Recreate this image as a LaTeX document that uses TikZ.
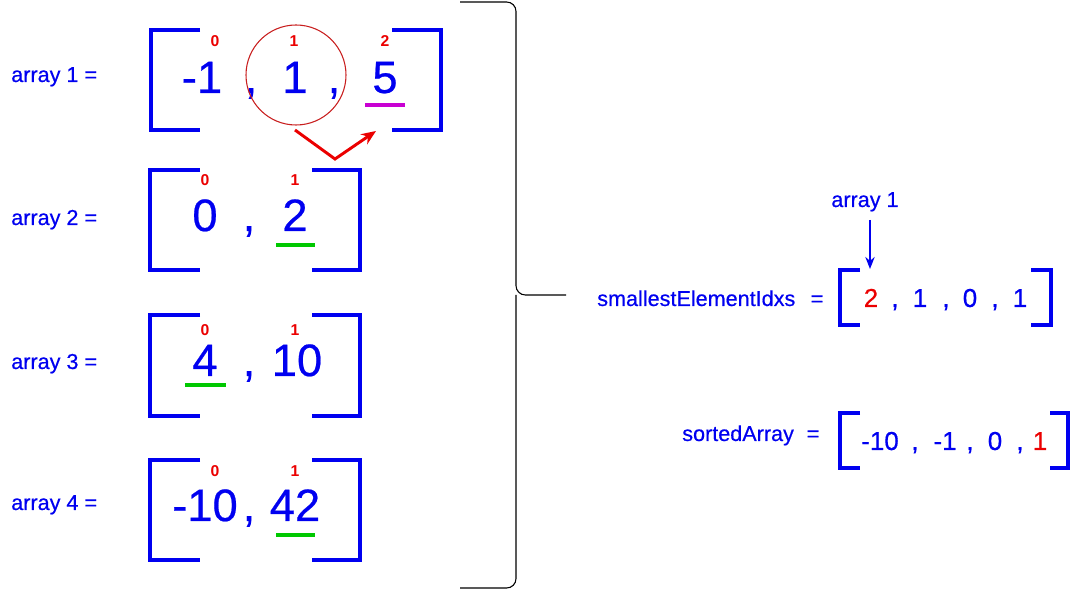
\documentclass[tikz,border=0pt]{standalone}
\usepackage{fontspec}
\setmainfont{Liberation Sans}
\newfontfamily\hv{Liberation Sans}[FakeBold=0.5]
\usetikzlibrary{arrows.meta}
\definecolor{myblue}{RGB}{0,0,240}
\definecolor{myred}{RGB}{235,0,0}
\definecolor{mygreen}{RGB}{0,200,0}
\definecolor{mymag}{RGB}{200,0,210}
\definecolor{circred}{RGB}{200,30,30}
\begin{document}
\begin{tikzpicture}[x=0.75pt,y=-0.75pt,
  lbl/.style={text=myblue, font=\hv\fontsize{16.2}{19}\selectfont, inner sep=0pt, anchor=base west},
  big/.style={text=myblue, font=\hv\fontsize{34}{40}\selectfont, inner sep=0pt, anchor=base},
  idx/.style={text=myred, font=\bfseries\fontsize{11.8}{14}\selectfont, inner sep=0pt, anchor=base},
  med/.style={text=myblue, font=\hv\fontsize{19.5}{23}\selectfont, inner sep=0pt, anchor=base},
  brk/.style={draw=myblue, line width=3pt},
  ulg/.style={draw=mygreen, line width=3pt},
  ulm/.style={draw=mymag, line width=3pt}]
\useasboundingbox (0,0) rectangle (1072,591);
% ---------- left labels
\node[lbl] (l1) at (11,82) {array 1 =};
\node[lbl] (l2) at (11,225) {array 2 =};
\node[lbl] (l3) at (11,369) {array 3 =};
\node[lbl] (l4) at (11,510) {array 4 =};
% ---------- array 1
\draw[brk] (200,30) -- (151,30) -- (151,130) -- (200,130);
\draw[brk] (392,30) -- (441,30) -- (441,130) -- (392,130);
\node[idx] (a1i0) at (215,47) {0};
\node[idx] (a1i1) at (294,47) {1};
\node[idx] (a1i2) at (385,47) {2};
\node[big] (a1v0) at (202,93) {-1};
\node[big] (a1c0) at (251,93) {,};
\node[big] (a1v1) at (295,93) {1};
\node[big] (a1c1) at (334,93) {,};
\node[big] (a1v2) at (385,93) {5};
\draw[ulm] (365,105) -- (405,105);
\node[draw=circred, line width=0.8pt, circle, minimum size=75pt, inner sep=0pt] (c1) at (296,75) {};
\coordinate (r0) at (295,130);
\coordinate (r1) at (335,159);
\coordinate (r2) at (376,131);
\draw[myred, line width=2.2pt, -{Stealth[length=11pt,width=9pt]}] (r0) -- (r1) -- (r2);
% ---------- array 2
\draw[brk] (200,170) -- (150,170) -- (150,270) -- (200,270);
\draw[brk] (312,170) -- (360,170) -- (360,270) -- (312,270);
\node[idx] (a2i0) at (205,186) {0};
\node[idx] (a2i1) at (295,186) {1};
\node[big] (a2v0) at (205,231) {0};
\node[big] (a2c0) at (249,231) {,};
\node[big] (a2v1) at (295,231) {2};
\draw[ulg] (276,245) -- (315,245);
% ---------- array 3
\draw[brk] (200,315) -- (150,315) -- (150,416) -- (200,416);
\draw[brk] (312,315) -- (360,315) -- (360,416) -- (312,416);
\node[idx] (a3i0) at (205,336) {0};
\node[idx] (a3i1) at (295,336) {1};
\node[big] (a3v0) at (205,376) {4};
\node[big] (a3c0) at (249,376) {,};
\node[big] (a3v1) at (297,376) {10};
\draw[ulg] (185,385) -- (226,385);
% ---------- array 4
\draw[brk] (200,460) -- (150,460) -- (150,560) -- (200,560);
\draw[brk] (312,460) -- (360,460) -- (360,560) -- (312,560);
\node[idx] (a4i0) at (215,477) {0};
\node[idx] (a4i1) at (295,477) {1};
\node[big] (a4v0) at (205,521) {-10};
\node[big] (a4c0) at (249,521) {,};
\node[big] (a4v1) at (295,521) {42};
\draw[ulg] (276,535) -- (315,535);
% ---------- brace
\draw[line width=0.8pt, rounded corners=7pt] (460,2) -| (516,295) -- (566,295);
\draw[line width=0.8pt, rounded corners=7pt] (460,588) -| (516,295);
% ---------- smallestElementIdxs
\node[lbl] (sl) at (597,306) {smallestElementIdxs};
\node[lbl, anchor=base] (seq) at (817,306) {=};
\draw[brk] (860,270) -- (840,270) -- (840,325) -- (860,325);
\draw[brk] (1031,270) -- (1051,270) -- (1051,325) -- (1031,325);
\node[med, text=myred] (s0) at (871,307) {2};
\node[med] (sc0) at (895,307) {,};
\node[med] (s1) at (920,307) {1};
\node[med] (sc1) at (946,307) {,};
\node[med] (s2) at (970,307) {0};
\node[med] (sc2) at (995,307) {,};
\node[med] (s3) at (1020,307) {1};
\node[lbl, anchor=base] (al) at (865,207) {array 1};
\coordinate (b0) at (870,220);
\coordinate (b1) at (870,269);
\draw[myblue, line width=1.5pt, -{Stealth[length=9pt,width=7pt]}] (b0) -- (b1);
% ---------- sortedArray
\node[lbl] (so) at (682,441) {sortedArray};
\node[lbl, anchor=base] (soeq) at (813,441) {=};
\draw[brk] (860,413) -- (840,413) -- (840,468) -- (860,468);
\draw[brk] (1050,413) -- (1068,413) -- (1068,468) -- (1050,468);
\node[med] (t0) at (880,450) {-10};
\node[med] (tc0) at (915,450) {,};
\node[med] (t1) at (945,450) {-1};
\node[med] (tc1) at (970,450) {,};
\node[med] (t2) at (995,450) {0};
\node[med] (tc2) at (1020,450) {,};
\node[med, text=myred] (t3) at (1040,450) {1};
\end{tikzpicture}
\end{document}
